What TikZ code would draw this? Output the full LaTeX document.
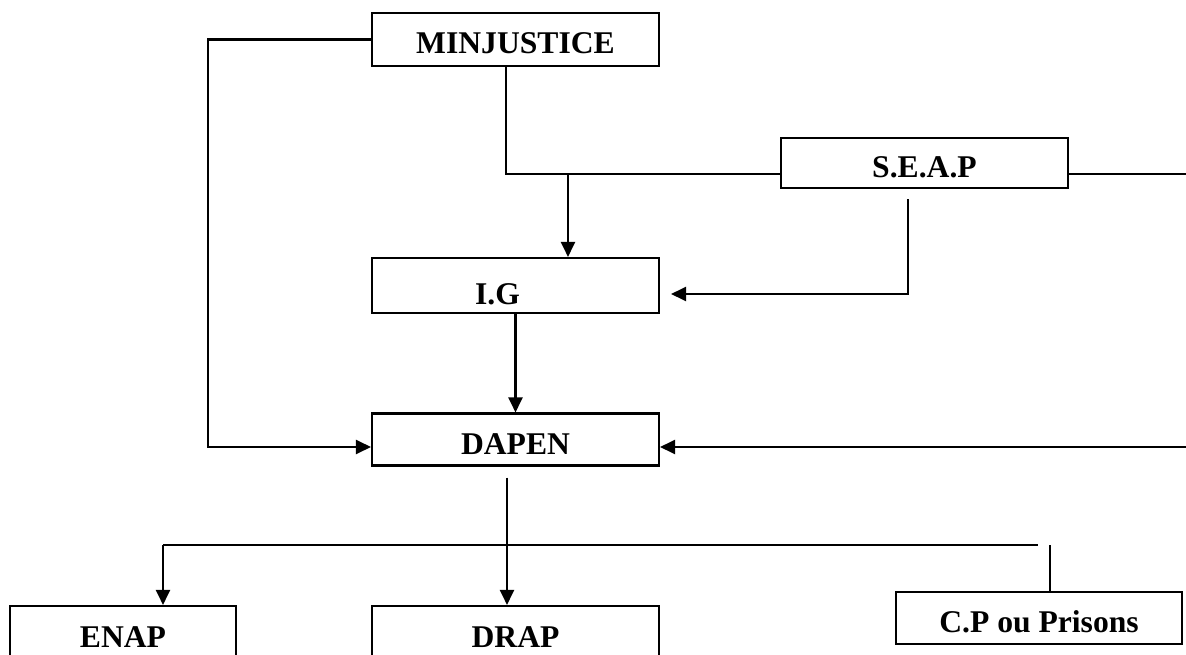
\documentclass[tikz,border=0pt]{standalone}
\usepackage{fontspec}
\setmainfont{Liberation Serif}
\usetikzlibrary{positioning,arrows.meta}

\begin{document}
\begin{tikzpicture}[x=0.02cm,y=-0.02cm,line width=1.2pt,
  box/.style={draw,line width=1.2pt,minimum width=5.74cm,minimum height=1.06cm,
    inner ysep=0.1cm,text height=0.58cm,text depth=0pt,
    font=\fontsize{18}{22}\selectfont\bfseries},
  arr/.style={-{Triangle[length=3mm,width=2.8mm]}}]
\useasboundingbox (0,0) rectangle (1186,655);
\clip (0,0) rectangle (1186,655);
% boxes
\node[box] (minj) at (515.5,39.5) {MINJUSTICE};
\node[box,minimum height=1.0cm] (seap) at (924.5,163) {S.E.A.P};
\node[box,minimum height=1.1cm,text height=0.76cm] (ig) at (515.5,285.5) {\hspace*{-0.72cm}I.G};
\node[box,minimum height=1.04cm] (dapen) at (515.5,439.5) {DAPEN};
\node[box,minimum width=4.52cm,minimum height=1.24cm,text height=0.42cm] (enap) at (123,637) {ENAP};
\node[box,minimum height=1.24cm,text height=0.42cm] (drap) at (515.5,637) {DRAP};
\node[box,minimum width=5.72cm,minimum height=1.04cm] (cp) at (1039,618) {C.P ou Prisons};
% free ends and corners
\coordinate (lcorner) at (208,447);
\coordinate (mjfoot) at (506,174);
\coordinate (rtop) at (1186,174);
\coordinate (igin) at (568,174);
\coordinate (spline) at (908,294);
\coordinate (rin) at (1186,447);
\coordinate (dfoot) at (507,545);
\coordinate (busl) at (163,545);
\coordinate (busr) at (1038,545);
\coordinate (cpstub) at (1050,545);
% connectors
\draw[arr] (minj.west) -| (lcorner) -- (lcorner -| dapen.west);
\draw (minj.south -| mjfoot) -- (mjfoot) -- (mjfoot -| seap.west);
\draw (seap.east |- rtop) -- (rtop);
\draw[arr] (igin) -- (igin |- ig.north);
\draw[arr,shorten <=0.2cm,shorten >=0.22cm] (seap.south -| spline) |- (ig.east |- spline);
\draw[arr] (ig.south) -- (dapen.north);
\draw[arr] (rin) -- (rin -| dapen.east);
\draw[arr,shorten <=0.22cm] (dapen.south -| dfoot) -- (dfoot |- drap.north);
\draw (busl) -- (busr);
\draw[arr] (busl) -- (busl |- enap.north);
\draw (cpstub) -- (cpstub |- cp.north);
\end{tikzpicture}
\end{document}
